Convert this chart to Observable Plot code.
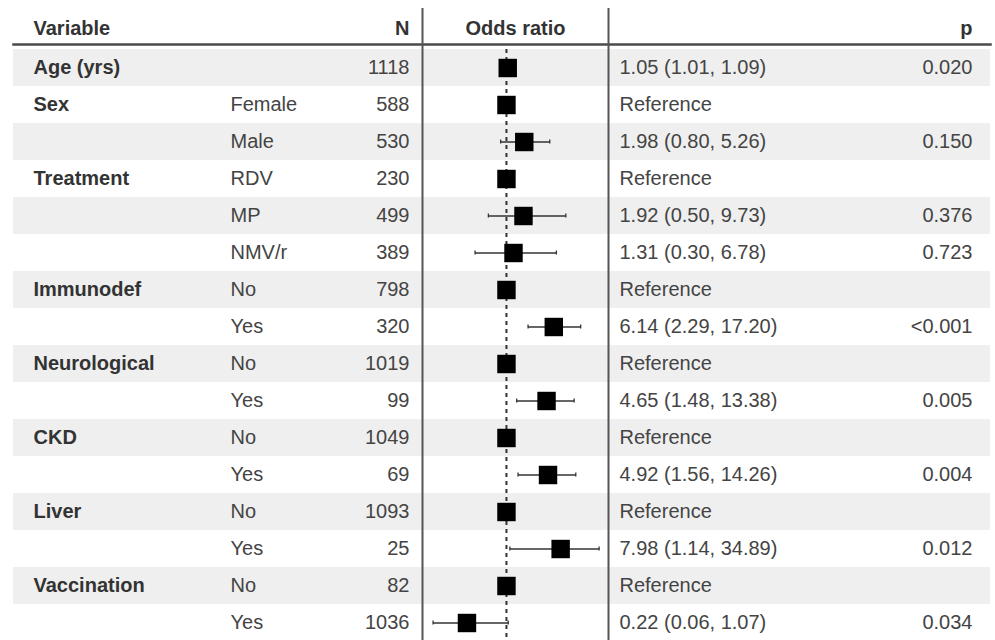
<!DOCTYPE html>
<html>
<head>
<meta charset="utf-8">
<script src="https://cdn.jsdelivr.net/npm/d3@7"></script>
<script src="https://cdn.jsdelivr.net/npm/@observablehq/plot@0.6"></script>
<style>
  html, body { margin: 0; padding: 0; background: #fff; }
  #chart { width: 995px; height: 640px; overflow: hidden; }
</style>
</head>
<body>
<div id="chart"></div>
<script>
// ---- data ----
const variables = ["Age (yrs)", "Sex", "", "Treatment", "", "", "Immunodef", "", "Neurological", "", "CKD", "", "Liver", "", "Vaccination", ""];
const levels = ["", "Female", "Male", "RDV", "MP", "NMV/r", "No", "Yes", "No", "Yes", "No", "Yes", "No", "Yes", "No", "Yes"];
const counts = [1118, 588, 530, 230, 499, 389, 798, 320, 1019, 99, 1049, 69, 1093, 25, 82, 1036];
const oddsRatios = [1.05, 1, 1.98, 1, 1.92, 1.31, 1, 6.14, 1, 4.65, 1, 4.92, 1, 7.98, 1, 0.22];
const lowerCI = [1.01, null, 0.80, null, 0.50, 0.30, null, 2.29, null, 1.48, null, 1.56, null, 1.14, null, 0.06];
const upperCI = [1.09, null, 5.26, null, 9.73, 6.78, null, 17.20, null, 13.38, null, 14.26, null, 34.89, null, 1.07];
const pValues = ["0.020", "", "0.150", "", "0.376", "0.723", "", "<0.001", "", "0.005", "", "0.004", "", "0.012", "", "0.034"];
const headers = ["Variable", "N", "Odds ratio", "p"];
const xDomain = [0.04, 50];
const refValue = 1;

const rows = counts.map((n, i) => ({
  id: i,
  variable: variables[i],
  level: levels[i],
  n: String(n),
  or: oddsRatios[i],
  lo: lowerCI[i],
  hi: upperCI[i],
  p: pValues[i],
  est: lowerCI[i] == null ? "Reference"
    : `${oddsRatios[i].toFixed(2)} (${lowerCI[i].toFixed(2)}, ${upperCI[i].toFixed(2)})`
}));
const withCI = rows.filter(d => d.lo != null);
const shaded = rows.filter(d => d.id % 2 === 0);
const ids = rows.map(d => d.id);

const textColor = "#333";
const bodyColor = "#444";
const hdrDy = -16;

const chart = Plot.plot({
  width: 995,
  height: 640,
  marginTop: 44,
  marginBottom: 0,
  marginLeft: 0,
  marginRight: 0,
  style: { fontFamily: "'Liberation Sans', Arial, Helvetica, sans-serif", fontSize: "20px", background: "#fff", overflow: "hidden" },
  x: { type: "log", domain: xDomain, range: [422, 608], axis: null },
  y: { type: "band", domain: ids, range: [44.5, 645], padding: 0, axis: null },
  marks: [
    // zebra shading
    Plot.cell(shaded, { y: "id", fill: "#efefef", insetLeft: 13, insetRight: 5 }),
    // header underline
    Plot.frame({ anchor: "top", stroke: "#4a4a4a", strokeWidth: 2.5, insetLeft: 13, insetRight: 5 }),
    // panel borders
    Plot.ruleX(xDomain, { stroke: "#555", strokeWidth: 2, insetTop: -36 }),
    // reference line at OR = 1
    Plot.ruleX([refValue], { x: d => d, y1: () => ids[0], y2: () => ids[ids.length - 1], stroke: "#333", strokeWidth: 2, strokeDasharray: "4,4" }),
    // confidence intervals
    Plot.link(withCI, { x1: "lo", x2: "hi", y1: "id", y2: "id", stroke: "#333", strokeWidth: 1.3 }),
    Plot.tickX(withCI, { x: "lo", y: "id", stroke: "#333", strokeWidth: 1.3, insetTop: 16.5, insetBottom: 16.5 }),
    Plot.tickX(withCI, { x: "hi", y: "id", stroke: "#333", strokeWidth: 1.3, insetTop: 16.5, insetBottom: 16.5 }),
    // point estimates
    Plot.dot(rows, { x: "or", y: "id", symbol: "square", r: 10.4, fill: "#000", stroke: null }),
    // headers
    Plot.text([headers[0]], { text: d => d, frameAnchor: "top-left", lineAnchor: "middle", dx: 33, dy: hdrDy, textAnchor: "start", fontWeight: "bold", fill: textColor }),
    Plot.text([headers[1]], { text: d => d, frameAnchor: "top-left", lineAnchor: "middle", dx: 409, dy: hdrDy, textAnchor: "end", fontWeight: "bold", fill: textColor }),
    Plot.text([headers[2]], { text: d => d, x: () => Math.sqrt(xDomain[0] * xDomain[1]), frameAnchor: "top", lineAnchor: "middle", dy: hdrDy, fontWeight: "bold", fill: textColor }),
    Plot.text([headers[3]], { text: d => d, frameAnchor: "top-left", lineAnchor: "middle", dx: 972, dy: hdrDy, textAnchor: "end", fontWeight: "bold", fill: textColor }),
    // table body
    Plot.text(rows, { y: "id", text: "variable", frameAnchor: "left", dx: 33, textAnchor: "start", fontWeight: "bold", fill: textColor }),
    Plot.text(rows, { y: "id", text: "level", frameAnchor: "left", dx: 230, textAnchor: "start", fill: bodyColor }),
    Plot.text(rows, { y: "id", text: "n", frameAnchor: "left", dx: 409, textAnchor: "end", fill: bodyColor }),
    Plot.text(rows, { y: "id", text: "est", frameAnchor: "left", dx: 619, textAnchor: "start", fill: bodyColor }),
    Plot.text(rows, { y: "id", text: "p", frameAnchor: "left", dx: 972, textAnchor: "end", fill: bodyColor })
  ]
});
document.getElementById("chart").appendChild(chart);
</script>
</body>
</html>
